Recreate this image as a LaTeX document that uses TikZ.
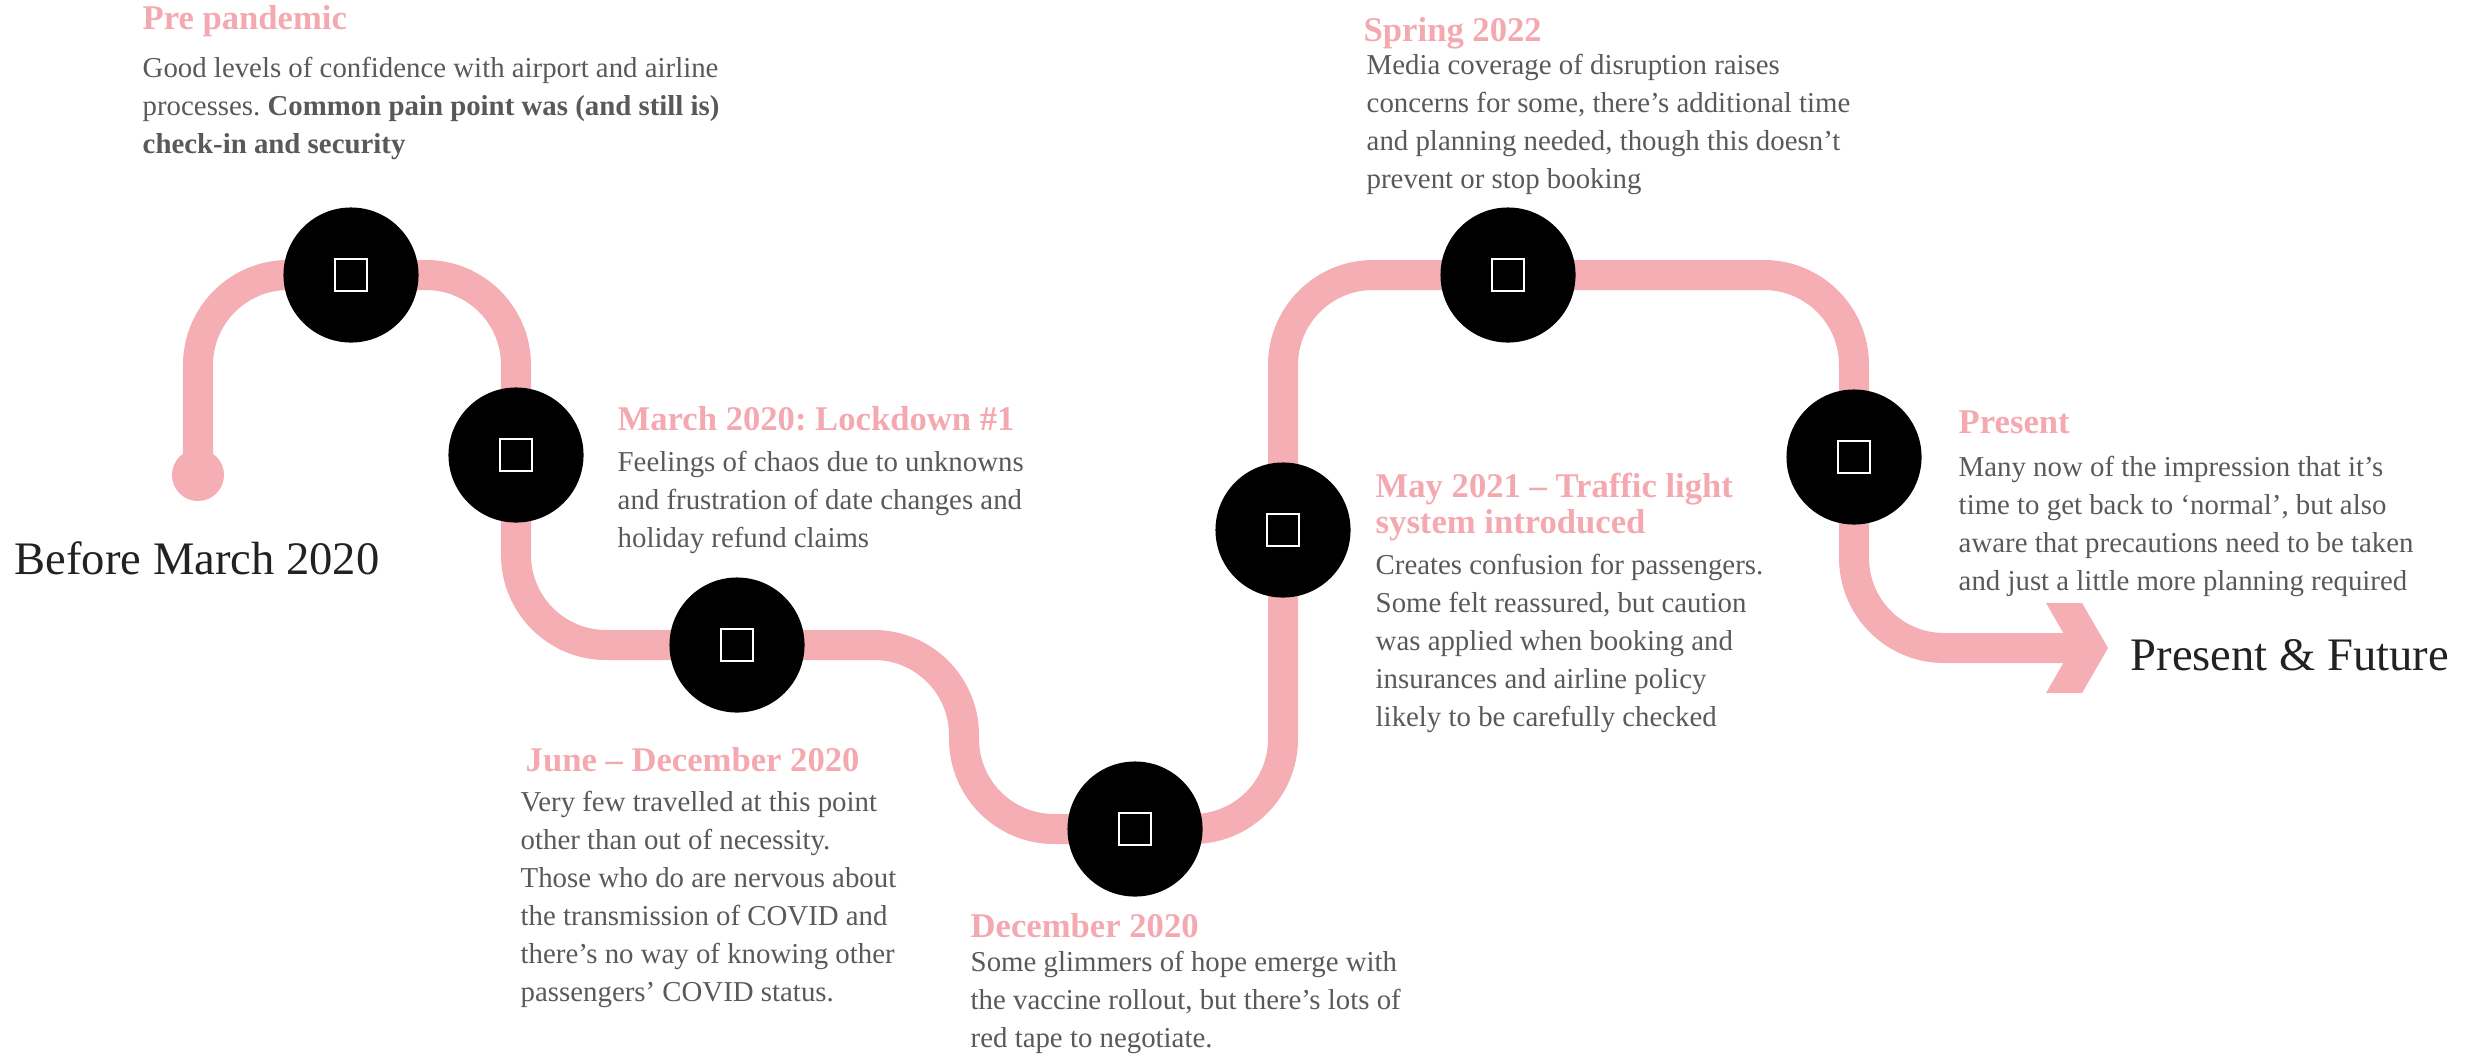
\documentclass[tikz,border=0pt]{standalone}
\usepackage{fontspec}
\setmainfont{Liberation Serif}
\usepackage{tikz}
\usepackage{xcolor}
\usetikzlibrary{positioning, backgrounds, calc}
\definecolor{cTrack}{HTML}{F4AEB4}
\definecolor{cTitle}{HTML}{F4A9B1}
\definecolor{cBody}{HTML}{595959}
\definecolor{cInk}{HTML}{222222}
\tikzset{
  stop/.style={
    circle, fill=black,
    minimum size=1.35cm, inner sep=0pt,
    path picture={
      \draw[white, line width=0.6pt]
        ([shift={(-0.16cm,-0.16cm)}]path picture bounding box.center)
        rectangle ++(0.32cm,0.32cm);
    }
  },
  dot/.style={
    circle, fill=cTrack,
    minimum size=0.52cm, inner sep=0pt
  },
  track/.style={
    draw=cTrack, line width=0.3cm, rounded corners=0.9cm
  },
  ttl/.style={
    anchor=base west, inner sep=0pt, align=left,
    font=\fontsize{9.85}{8.8}\selectfont\bfseries\frenchspacing, text=cTitle
  },
  body/.style={
    anchor=base west, inner sep=0pt, align=left,
    font=\fontsize{8.2}{10.8}\selectfont\frenchspacing, text=cBody
  },
  big/.style={
    anchor=base west, inner sep=0pt,
    font=\fontsize{13.25}{16}\selectfont, text=cInk
  }
}

\begin{document}
\begin{tikzpicture}[x=0.01cm, y=-0.01cm]
\useasboundingbox (0,0) rectangle (2470,1063);

%% ── Stops ────────────────────────────────────────────────────────

% start of the road
\node[dot] (start) at (198,475) {};

% milestones
\node[stop] (c1) at (351,275) {};
\node[stop] (c2) at (516,455) {};
\node[stop] (c3) at (737,645) {};
\node[stop] (c4) at (1135,829) {};
\node[stop] (c5) at (1283,530) {};
\node[stop] (c6) at (1508,275) {};
\node[stop] (c7) at (1854,457) {};

% bends and arrow end
\coordinate (dip)  at (964,737);
\coordinate (head) at (2072,648);

%% ── Road ─────────────────────────────────────────────────────────
\begin{scope}[on background layer]
  \draw[track] (start.center) |- (c2 |- c1) |- (c3 -| dip)
    |- (c5 |- c4) |- (c7 |- c6) |- (head);
\end{scope}

% arrow head
\fill[cTrack] ([shift={(-26,-45)}]head) -- ++(36,0) -- ++(26,45)
  -- ++(-26,45) -- ++(-36,0) -- ++(26,-45) -- cycle;

%% ── Texts (multi-line nodes sit on their last baseline) ──────────

% Pre pandemic
\node[ttl] (t1) at (142,29) {Pre pandemic};
\node[body] (b1) at (142,153) {
  Good levels of confidence with airport and airline\\
  processes. \textbf{Common pain point was (and still is)}\\
  \textbf{check-in and security}
};

% March 2020
\node[ttl] (t2) at (617,430) {March 2020: Lockdown \#1};
\node[body] (b2) at (617,547) {
  Feelings of chaos due to unknowns\\
  and frustration of date changes and\\
  holiday refund claims
};

% June - December 2020
\node[ttl] (t3) at (525,771) {June – December 2020};
\node[body] (b3) at (520,1001) {
  Very few travelled at this point\\
  other than out of necessity.\\
  Those who do are nervous about\\
  the transmission of COVID and\\
  there’s no way of knowing other\\
  passengers’ COVID status.
};

% December 2020
\node[ttl] (t4) at (970,937) {December 2020};
\node[body] (b4) at (970,1047) {
  Some glimmers of hope emerge with\\
  the vaccine rollout, but there’s lots of\\
  red tape to negotiate.
};

% May 2021
\node[ttl] (t5) at (1375,533) {
  May 2021 – Traffic light\\
  system introduced
};
\node[body] (b5) at (1375,726) {
  Creates confusion for passengers.\\
  Some felt reassured, but caution\\
  was applied when booking and\\
  insurances and airline policy\\
  likely to be carefully checked
};

% Spring 2022
\node[ttl] (t6) at (1363,41) {Spring 2022};
\node[body] (b6) at (1366,188) {
  Media coverage of disruption raises\\
  concerns for some, there’s additional time\\
  and planning needed, though this doesn’t\\
  prevent or stop booking
};

% Present
\node[ttl] (t7) at (1958,433) {Present};
\node[body] (b7) at (1958,590) {
  Many now of the impression that it’s\\
  time to get back to ‘normal’, but also\\
  aware that precautions need to be taken\\
  and just a little more planning required
};

%% ── Ends of the road ─────────────────────────────────────────────
\node[big] (before) at (14,574) {Before March 2020};
\node[big] (future) at (2130,670) {Present \& Future};

\end{tikzpicture}
\end{document}
